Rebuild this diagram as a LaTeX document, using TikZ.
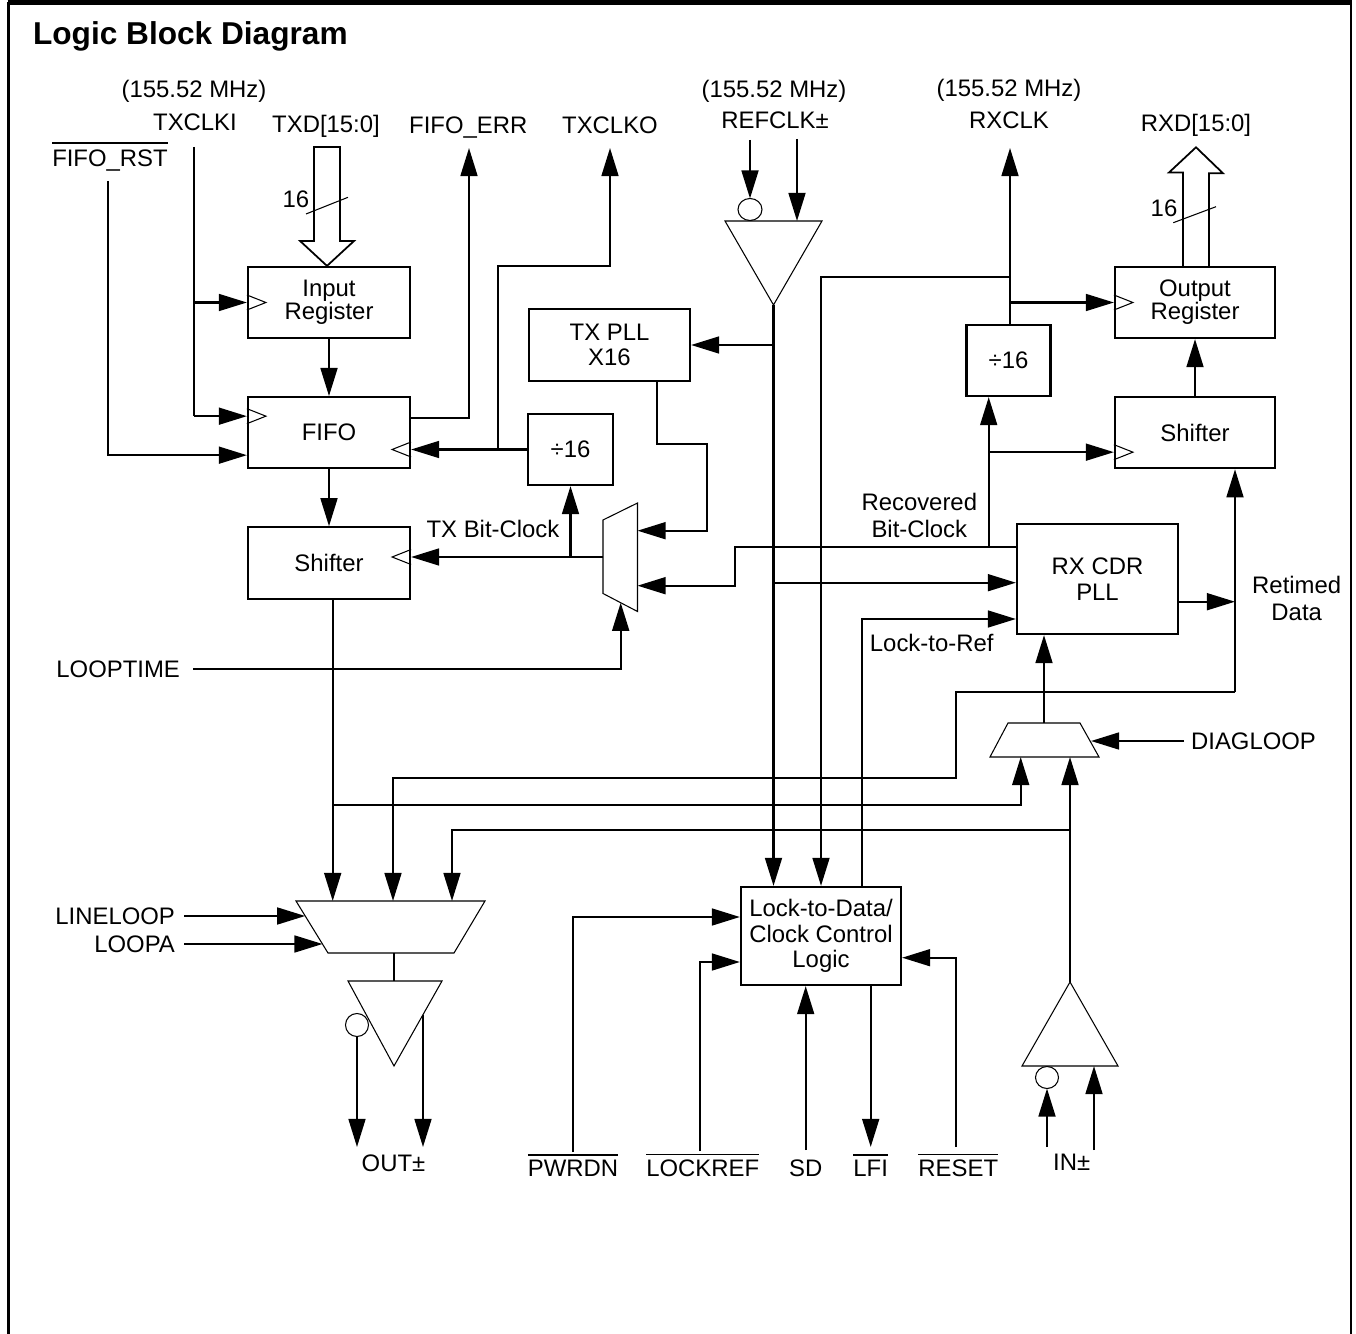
\documentclass[tikz,border=0pt]{standalone}
\usepackage{fontspec}
\setmainfont{Liberation Sans}
\usetikzlibrary{arrows.meta,calc,positioning}
\newcommand{\sig}{\fontsize{13.6}{14.6}\selectfont}
\newcommand{\ovl}[2][2.3pt]{\vbox{\hrule height 0.7pt\kern#1\hbox{#2}}}
\tikzset{clk/.pic={\draw[line width=0.6pt] (0,-7.5) -- (19,0) -- (0,7.5);}}
\begin{document}
\begin{tikzpicture}[x=0.02cm, y=-0.02cm, line width=1.25pt, >={Triangle[length=16pt,width=9.6pt]},
      blk/.style={draw, rectangle, inner sep=0pt, align=center, font=\sig},
      sig/.style={inner sep=0pt, font=\sig, text height=9.75pt, text depth=0pt},
      two/.style={inner sep=0pt, font=\sig, align=center},
      gate/.style={draw, line width=0.6pt}, pfeil/.style={->}]

\useasboundingbox (0,0) rectangle (1356,1334);
\draw[line width=1.2pt] (8.5,1334) -- (8.5,2);
\draw[line width=1.4pt] (1351,1334) -- (1351,2);
\draw[line width=2.6pt] (7.5,2.75) -- (1352,2.75);
\node[anchor=base west, inner sep=0pt, font=\fontsize{18}{20}\selectfont\bfseries] (title) at (32,45) {Logic Block Diagram};

\node[blk, minimum width=3.24cm, minimum height=1.42cm] (inreg) at (329,302.5) {Input\\[-1.6pt]Register};
\node[blk, minimum width=3.24cm, minimum height=1.42cm, below=1.14cm of inreg] (fifo) {FIFO};
\node[blk, minimum width=3.24cm, minimum height=1.44cm, below=1.14cm of fifo] (txshift) {Shifter};
\node[blk, minimum width=1.7cm, minimum height=1.42cm] (txdiv) at (570.5,449.5) {÷16};
\node[blk, minimum width=3.22cm, minimum height=1.44cm] (txpll) at (609.5,345) {TX PLL\\[-0.6pt]X16};
\node[blk, minimum width=3.2cm, minimum height=1.42cm] (outreg) at (1195,302.5) {Output\\[-1.6pt]Register};
\node[blk, minimum width=3.2cm, minimum height=1.42cm, below=1.14cm of outreg] (rxshift) {Shifter};
\node[blk, minimum width=1.68cm, minimum height=1.42cm] (rxdiv) at (1008.5,360.5) {÷16};
\node[blk, minimum width=3.22cm, minimum height=2.2cm] (cdr) at (1097.5,579) {RX CDR\\[0.5pt]PLL};
\node[blk, minimum width=3.2cm, minimum height=1.96cm] (lockctl) at (821,936) {Lock-to-Data/\\Clock Control\\Logic};

\node[sig] (mhztx) at (194,89.3) {(155.52 MHz)};
\node[sig] (txclki-l) at (195,121.7) {TXCLKI};
\node[sig] (txd-l) at (326,124) {TXD[15:0]};
\node[sig] (fifoerr-l) at (468.3,124.5) {FIFO\_ERR};
\node[sig] (txclko-l) at (610,125) {TXCLKO};
\node[sig] (mhzref) at (774,89.3) {(155.52 MHz)};
\node[sig] (refclk-l) at (775,120) {REFCLK±};
\node[sig] (mhzrx) at (1009,88.3) {(155.52 MHz)};
\node[sig] (rxclk-l) at (1009,120) {RXCLK};
\node[sig] (rxd-l) at (1196,122.5) {RXD[15:0]};
\node[sig] (fiforst-l) at (110,158) {\ovl[3.6pt]{FIFO\_RST}};
\node[sig] (txw) at (296,199.3) {16};
\node[sig] (rxw) at (1164,208.3) {16};
\node[sig] (txbit-l) at (493,529) {TX Bit-Clock};
\node[two] (recclk-l) at (919.3,515.3) {Recovered\\[1pt]Bit-Clock};
\node[two] (retimed-l) at (1296.7,598.3) {Retimed\\[0.5pt]Data};
\node[sig] (ltr-l) at (931.7,643.3) {Lock-to-Ref};
\node[sig] (out-l) at (393.5,1163) {OUT±};
\node[sig] (in-l) at (1071.7,1161.7) {IN±};
\node[sig] (pwrdn-l) at (573,1167.5) {\ovl{PWRDN}};
\node[sig] (lockref-l) at (702.7,1167.5) {\ovl{LOCKREF}};
\node[sig] (sd-l) at (805.7,1167.5) {SD};
\node[sig] (lfi-l) at (870.7,1167.5) {\ovl{LFI}};
\node[sig] (reset-l) at (958.3,1167.5) {\ovl{RESET}};

\coordinate (rst) at (108,181);
\coordinate (txclki) at (194,147);
\coordinate (txd) at (327,147);
\coordinate (fifoerr) at (469,148);
\coordinate (txclko) at (610,148);
\coordinate (txo-j) at (497.7,449.5);
\coordinate (fifo-clk) at ($(fifo.west)+(0,-16.5)$);
\coordinate (fifo-rst) at ($(fifo.west)+(0,22.5)$);
\coordinate (fifo-err) at ($(fifo.east)+(0,-14.5)$);
\coordinate (txmux-out) at (603,557);
\coordinate (txmux-in1) at (637.5,530.7);
\coordinate (txmux-in2) at (637.5,585.7);
\coordinate (txmux-sel) at (620.7,602.7);
\coordinate (looptime) at (193,669);
\coordinate (refn) at (750,140);
\coordinate (refp) at (797,139);
\coordinate (refout) at (773.5,305);
\coordinate (txpll-out) at ($(txpll.south)+(47.5,0)$);
\coordinate (rxclk) at (1010,148);
\coordinate (rxclk-j) at (1010,276.7);
\coordinate (rxd) at (1196,147.3);
\coordinate (recclk) at ($(cdr.west)+(0,-32.3)$);
\coordinate (rdiv-in) at ($(rxdiv.south)+(-19.8,0)$);
\coordinate (rxshift-clk) at ($(rxshift.west)+(0,19.5)$);
\coordinate (cdr-ref) at ($(cdr.west)+(0,3.7)$);
\coordinate (cdr-ltr) at ($(cdr.west)+(0,40)$);
\coordinate (ltr) at ($(lockctl.north)+(41,0)$);
\coordinate (cdr-out) at ($(cdr.east)+(0,22.7)$);
\coordinate (rtd-top) at ($(rxshift.south)+(40,0)$);
\coordinate (rtd-bot) at (1235,692);
\coordinate (dmux-out) at (1044,723);
\coordinate (dmux-in1) at (1020.7,757);
\coordinate (dmux-in2) at (1070,757);
\coordinate (dmux-sel) at (1091,741);
\coordinate (diagloop) at (1184,741);
\coordinate (txser) at ($(txshift.south)+(3.7,0)$);
\coordinate (omux-in1) at (332.7,901);
\coordinate (omux-in2) at (393,901);
\coordinate (omux-in3) at (452,901);
\coordinate (omux-ll) at (305.2,916);
\coordinate (omux-la) at (322.5,944);
\coordinate (omux-out) at (394,953);
\coordinate (lineloop) at (184,916);
\coordinate (loopa) at (184,944);
\coordinate (obuf-in) at (394,981);
\coordinate (outn) at (357,1036.5);
\coordinate (outp) at (423,1014.6);
\coordinate (inout) at (1070,982);
\coordinate (inn) at (1047,1147);
\coordinate (inp) at (1094,1150);
\coordinate (pwrdn) at (572.7,1152);
\coordinate (lockref) at (700,1151);
\coordinate (sd) at (805.7,1150);
\coordinate (lfi) at (870.7,1147);
\coordinate (reset) at (955.7,1147);

\node[sig, left=0.24cm of looptime] (looptime-l) {LOOPTIME};
\node[sig, right=0.12cm of diagloop] (diagloop-l) {DIAGLOOP};
\node[sig, left=0.16cm of lineloop] (lineloop-l) {LINELOOP};
\node[sig, left=0.16cm of loopa] (loopa-l) {LOOPA};

\pic at (inreg.west) {clk};
\pic at (fifo-clk) {clk};
\pic[xscale=-1] at (txdiv.west -| fifo.east) {clk};
\pic[xscale=-1] at (txmux-out -| txshift.east) {clk};
\pic at (outreg.west) {clk};
\pic at (rxshift-clk) {clk};

\draw[gate] (603,520) -- (637.5,503) -- (637.5,611.5) -- (603,593.5) -- cycle;
\draw[gate] (1008,723) -- (1080,723) -- (1099,757) -- (990,757) -- cycle;
\draw[gate] (296,901) -- (485,901) -- (454,953) -- (328,953) -- cycle;
\draw[gate] (725,221) -- (822,221) -- (refout) -- cycle;
\draw[gate] (750,209.5) circle[x radius=0.24cm, y radius=0.22cm];
\draw[gate] (348,981) -- (442,981) -- (394,1066) -- cycle;
\draw[gate] (357,1025) circle[radius=0.23cm];
\draw[gate] (inout) -- (1118,1066) -- (1022,1066) -- cycle;
\draw[gate] (1047,1077.5) circle[x radius=0.23cm, y radius=0.22cm];

\draw[line width=1pt] (txd) ++(-13,0) -- ++(26,0) -- ++(0,94) -- ++(14,0) -- (txd |- inreg.north) -- ++(-27,-25) -- ++(14,0) -- cycle;
\draw[line width=0.6pt] (306,214) -- (348,197.3);
\draw[line width=1pt] (rxd |- outreg.north) ++(-13,0) -- ++(0,-93.4) -- ++(-14,0) -- (rxd) -- ++(27,26) -- ++(-14,0) -- ++(0,93.4);
\draw[line width=0.6pt] (1173.3,222.7) -- (1216,206.7);

\draw[pfeil] (rst) |- (fifo-rst);
\draw (txclki) -- (txclki |- fifo-clk);
\draw[pfeil] (txclki |- fifo-clk) -- (fifo-clk);
\draw[pfeil] (txclki |- inreg.west) -- (inreg.west);
\draw[pfeil] (inreg) -- (fifo);
\draw[pfeil] (fifo) -- (txshift);
\draw[pfeil] (fifo-err) -| (fifoerr);
\draw[pfeil] (txdiv.west) -- (txdiv.west -| fifo.east);
\draw[pfeil] (txo-j) -- (497.7,266) -| (txclko);
\draw[pfeil] (txmux-out) -- (txmux-out -| txshift.east);
\draw[pfeil] (txmux-out -| txdiv.south) -- (txdiv.south);
\draw[pfeil] (looptime) -| (txmux-sel);

\draw[pfeil] (refn) -- (750,198.5);
\draw[pfeil] (refp) -- (797,221);
\draw[pfeil] (refout) -- (refout |- lockctl.north);
\draw[pfeil] (refout |- txpll.east) -- (txpll.east);
\draw[pfeil] (txpll-out) |- (706.7,444) |- (txmux-in1);
\draw[pfeil] (refout |- cdr-ref) -- (cdr-ref);

\draw[pfeil] (recclk) -| ($(txmux-in2)+(97.5,0)$) -- (txmux-in2);
\draw[pfeil] (rdiv-in |- recclk) -- (rdiv-in);
\draw[pfeil] (rdiv-in |- rxshift-clk) -- (rxshift-clk);
\draw[pfeil] (rxclk |- rxdiv.north) -- (rxclk);
\draw[pfeil] (rxclk |- outreg.west) -- (outreg.west);
\draw[pfeil] (rxclk-j) -| (lockctl.north);
\draw[pfeil] (rxshift) -- (outreg);
\draw[pfeil] (ltr) |- (cdr-ltr);
\draw[pfeil] (cdr-out) -- (cdr-out -| rtd-top);
\draw[pfeil] (rtd-bot) -- (rtd-top);
\draw[pfeil] (rtd-bot) -| (956,778) -| (omux-in2);

\draw[pfeil] (dmux-out) -- (dmux-out |- cdr.south);
\draw[pfeil] (diagloop) -- (dmux-sel);
\draw[pfeil] (txser) -- (omux-in1);
\draw[pfeil] (txser |- 0,804.7) -| (dmux-in1);
\draw[pfeil] (inout) -- (dmux-in2);
\draw[pfeil] (inout |- 0,830) -| (omux-in3);
\draw[pfeil] (lineloop) -- (omux-ll);
\draw[pfeil] (loopa) -- (omux-la);
\draw (omux-out) -- (obuf-in);
\draw[pfeil] (outn) -- (outn |- 0,1147);
\draw[pfeil] (outp) -- (outp |- 0,1147);
\draw[pfeil] (inn) -- (1047,1088.5);
\draw[pfeil] (inp) -- (inp |- 0,1066);

\draw[pfeil] (pwrdn) |- ($(lockctl.west)+(0,-19)$);
\draw[pfeil] (lockref) |- ($(lockctl.west)+(0,26)$);
\draw[pfeil] (sd) -- (sd |- lockctl.south);
\draw[pfeil] (lfi |- lockctl.south) -- (lfi);
\draw[pfeil] (reset) |- ($(lockctl.east)+(0,21.7)$);

\end{tikzpicture}
\end{document}
